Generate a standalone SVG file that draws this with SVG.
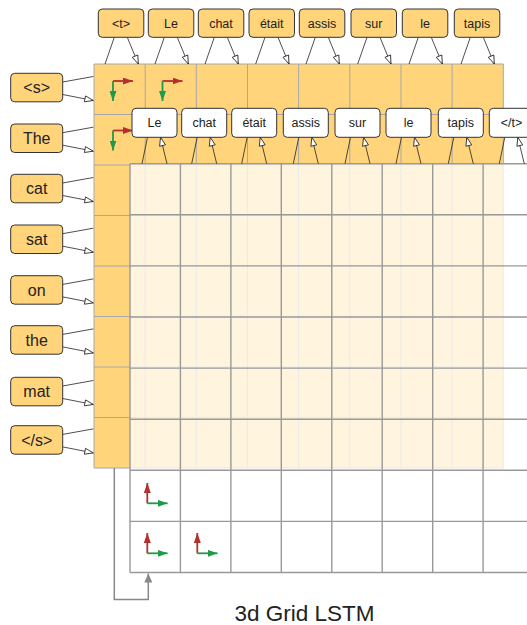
<svg xmlns="http://www.w3.org/2000/svg" width="527" height="625" viewBox="0 0 527 625">
<defs>
<style>
.lbl{fill:#FFD47B;stroke:#333;stroke-width:1}
.mid{fill:#fff;stroke:#333;stroke-width:1}
.t{font-family:"Liberation Sans",Arial,sans-serif;fill:#222;text-anchor:middle}
.t13{font-size:12.5px}
.t16{font-size:16px}
.conn{stroke:#222;stroke-width:0.8;fill:none;marker-end:url(#open)}
.og{stroke:#a8a8a8;stroke-width:1;fill:none}
.wg{stroke:#999;stroke-width:1.4;fill:none}
.red{stroke:#b3312c;stroke-width:1.8;fill:none;marker-end:url(#hr)}
.grn{stroke:#1f9a4a;stroke-width:1.8;fill:none;marker-end:url(#hg)}
</style>
<marker id="open" markerUnits="userSpaceOnUse" markerWidth="10" markerHeight="8" refX="9" refY="3.5" orient="auto" overflow="visible">
<path d="M0.5,0.5 L9,3.5 L0.5,6.5 z" fill="#fff" stroke="#222" stroke-width="0.8"/>
</marker>
<marker id="hr" markerUnits="userSpaceOnUse" markerWidth="10" markerHeight="7" refX="10" refY="3.5" orient="auto">
<path d="M0,0 L10,3.5 L0,7 z" fill="#b3312c"/>
</marker>
<marker id="hg" markerUnits="userSpaceOnUse" markerWidth="10" markerHeight="7" refX="10" refY="3.5" orient="auto">
<path d="M0,0 L10,3.5 L0,7 z" fill="#1f9a4a"/>
</marker>
<marker id="hgray" markerUnits="userSpaceOnUse" markerWidth="9" markerHeight="8" refX="9" refY="4" orient="auto">
<path d="M0,0 L9,4 L0,8 z" fill="#888"/>
</marker>
</defs>
<rect width="527" height="625" fill="#fff"/>

<!-- orange plane -->
<g id="plane-back">
<rect x="94" y="64" width="409.3" height="404" fill="#FFD47B"/>
<path class="og" d="M94,64V468M145.2,64V468M196.3,64V468M247.5,64V468M298.6,64V468M349.8,64V468M401,64V468M452.1,64V468M503.3,64V468M94,64H503.3M94,114.5H503.3M94,165H503.3M94,215.5H503.3M94,266H503.3M94,316.5H503.3M94,367H503.3M94,417.5H503.3M94,468H503.3"/>
<path class="red" d="M113,81H133"/><path class="grn" d="M113,81V101"/>
<path class="red" d="M162.5,81H182.5"/><path class="grn" d="M162.5,81V101"/>
<path class="red" d="M113,130.5H133"/><path class="grn" d="M113,130.5V150.5"/>
</g>

<!-- front plane -->
<g id="plane-front">
<rect x="130" y="163.7" width="410" height="408.8" fill="#fff" fill-opacity="0.76"/>
<path class="wg" d="M130,163.7V572.5M180.4,163.7V572.5M230.9,163.7V572.5M281.3,163.7V572.5M331.8,163.7V572.5M382.2,163.7V572.5M432.7,163.7V572.5M483.1,163.7V572.5M130,163.7H540M130,214.8H540M130,265.9H540M130,317H540M130,368.1H540M130,419.2H540M130,470.3H540M130,521.4H540M130,572.5H540"/>
<path class="red" d="M147.3,503.3V483"/><path class="grn" d="M147.3,503.3H167.6"/>
<path class="red" d="M147.3,553.3V533"/><path class="grn" d="M147.3,553.3H167.6"/>
<path class="red" d="M197.3,553.3V533"/><path class="grn" d="M197.3,553.3H217.6"/>
</g>

<!-- connectors -->
<g id="connectors">
<path class="conn" d="M114.3,37.3L105,64M127.3,37.3L138.3,64"/>
<path class="conn" d="M164.3,37.3L155,64M177.3,37.3L188.3,64"/>
<path class="conn" d="M214.3,37.3L205,64M227.3,37.3L238.3,64"/>
<path class="conn" d="M265,37.3L255.7,64M278,37.3L289,64"/>
<path class="conn" d="M315.3,37.3L306,64M328.3,37.3L339.3,64"/>
<path class="conn" d="M367,37.3L357.7,64M380,37.3L391,64"/>
<path class="conn" d="M418.3,37.3L409,64M431.3,37.3L442.3,64"/>
<path class="conn" d="M470.3,37.3L461,64M483.3,37.3L494.3,64"/>
<path class="conn" d="M62.7,82L93.3,76.5M62.7,94.5L93.3,100.5"/>
<path class="conn" d="M62.7,132.7L93.3,127.2M62.7,145.2L93.3,151.2"/>
<path class="conn" d="M62.7,183L93.3,177.5M62.7,195.5L93.3,201.5"/>
<path class="conn" d="M62.7,233.7L93.3,228.2M62.7,246.2L93.3,252.2"/>
<path class="conn" d="M62.7,284.4L93.3,278.9M62.7,296.9L93.3,302.9"/>
<path class="conn" d="M62.7,334.4L93.3,328.9M62.7,346.9L93.3,352.9"/>
<path class="conn" d="M62.7,386L93.3,380.5M62.7,398.5L93.3,404.5"/>
<path class="conn" d="M62.7,434.4L93.3,428.9M62.7,446.9L93.3,452.9"/>
<path class="conn" d="M142,163.7L147.5,137.3M167,163.7L160.5,137.3"/>
<path class="conn" d="M191.7,163.7L197.2,137.3M216.7,163.7L210.2,137.3"/>
<path class="conn" d="M241.7,163.7L247.2,137.3M266.7,163.7L260.2,137.3"/>
<path class="conn" d="M293.3,163.7L298.8,137.3M318.3,163.7L311.8,137.3"/>
<path class="conn" d="M345,163.7L350.5,137.3M370,163.7L363.5,137.3"/>
<path class="conn" d="M396,163.7L401.5,137.3M421,163.7L414.5,137.3"/>
<path class="conn" d="M448.3,163.7L453.8,137.3M473.3,163.7L466.8,137.3"/>
<path class="conn" d="M499.3,163.7L504.8,137.3M524.3,163.7L517.8,137.3"/>
<path d="M114.3,468V599.5H148.3V573.5" stroke="#888" stroke-width="1.5" fill="none" marker-end="url(#hgray)"/>
</g>

<g id="top-t"><rect class="lbl" x="98.3" y="9" width="45.5" height="28.3" rx="4"/><text class="t t13" x="121" y="27.7">&lt;t&gt;</text></g>
<g id="top-Le"><rect class="lbl" x="148.3" y="9" width="45.5" height="28.3" rx="4"/><text class="t t13" x="171" y="27.7">Le</text></g>
<g id="top-chat"><rect class="lbl" x="198.3" y="9" width="45.5" height="28.3" rx="4"/><text class="t t13" x="221" y="27.7">chat</text></g>
<g id="top-etait"><rect class="lbl" x="249" y="9" width="45.5" height="28.3" rx="4"/><text class="t t13" x="271.7" y="27.7">était</text></g>
<g id="top-assis"><rect class="lbl" x="299.3" y="9" width="45.5" height="28.3" rx="4"/><text class="t t13" x="322" y="27.7">assis</text></g>
<g id="top-sur"><rect class="lbl" x="351" y="9" width="45.5" height="28.3" rx="4"/><text class="t t13" x="373.7" y="27.7">sur</text></g>
<g id="top-le"><rect class="lbl" x="402.3" y="9" width="45.5" height="28.3" rx="4"/><text class="t t13" x="425" y="27.7">le</text></g>
<g id="top-tapis"><rect class="lbl" x="454.3" y="9" width="45.5" height="28.3" rx="4"/><text class="t t13" x="477" y="27.7">tapis</text></g>

<g id="src-s"><rect class="lbl" x="10.7" y="73.3" width="52" height="28.5" rx="4"/><text class="t t16" x="36.7" y="93.3">&lt;s&gt;</text></g>
<g id="src-The"><rect class="lbl" x="10.7" y="124" width="52" height="28.5" rx="4"/><text class="t t16" x="36.7" y="144">The</text></g>
<g id="src-cat"><rect class="lbl" x="10.7" y="174.3" width="52" height="28.5" rx="4"/><text class="t t16" x="36.7" y="194.3">cat</text></g>
<g id="src-sat"><rect class="lbl" x="10.7" y="225" width="52" height="28.5" rx="4"/><text class="t t16" x="36.7" y="245">sat</text></g>
<g id="src-on"><rect class="lbl" x="10.7" y="275.7" width="52" height="28.5" rx="4"/><text class="t t16" x="36.7" y="295.7">on</text></g>
<g id="src-the"><rect class="lbl" x="10.7" y="325.7" width="52" height="28.5" rx="4"/><text class="t t16" x="36.7" y="345.7">the</text></g>
<g id="src-mat"><rect class="lbl" x="10.7" y="377.3" width="52" height="28.5" rx="4"/><text class="t t16" x="36.7" y="397.3">mat</text></g>
<g id="src-end"><rect class="lbl" x="10.7" y="425.7" width="52" height="28.5" rx="4"/><text class="t t16" x="36.7" y="445.7">&lt;/s&gt;</text></g>

<g id="out-Le"><rect class="mid" x="132" y="108.3" width="45" height="29" rx="4"/><text class="t t13" x="154.5" y="127.2">Le</text></g>
<g id="out-chat"><rect class="mid" x="181.7" y="108.3" width="45" height="29" rx="4"/><text class="t t13" x="204.2" y="127.2">chat</text></g>
<g id="out-etait"><rect class="mid" x="231.7" y="108.3" width="45" height="29" rx="4"/><text class="t t13" x="254.2" y="127.2">était</text></g>
<g id="out-assis"><rect class="mid" x="283.3" y="108.3" width="45" height="29" rx="4"/><text class="t t13" x="305.8" y="127.2">assis</text></g>
<g id="out-sur"><rect class="mid" x="335" y="108.3" width="45" height="29" rx="4"/><text class="t t13" x="357.5" y="127.2">sur</text></g>
<g id="out-le"><rect class="mid" x="386" y="108.3" width="45" height="29" rx="4"/><text class="t t13" x="408.5" y="127.2">le</text></g>
<g id="out-tapis"><rect class="mid" x="438.3" y="108.3" width="45" height="29" rx="4"/><text class="t t13" x="460.8" y="127.2">tapis</text></g>
<g id="out-end"><rect class="mid" x="489.3" y="108.3" width="45" height="29" rx="4"/><text class="t t13" x="511.5" y="127.2">&lt;/t&gt;</text></g>

<text class="t" x="304.5" y="621" font-size="22.5">3d Grid LSTM</text>
</svg>
